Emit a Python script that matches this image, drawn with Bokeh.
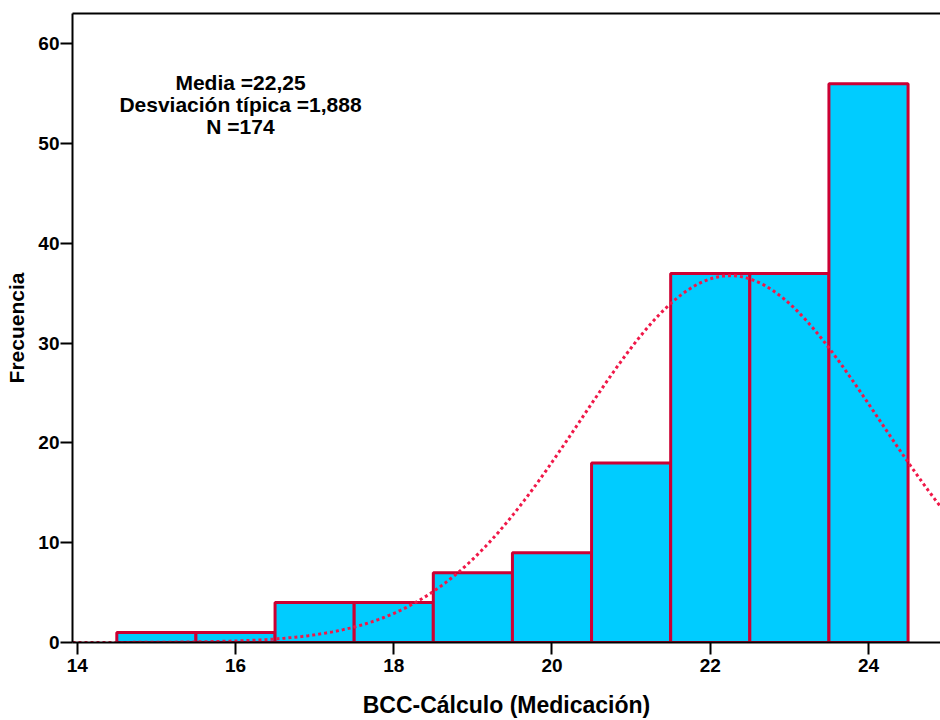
import numpy as np
from bokeh.plotting import figure
from bokeh.models import LinearAxis, Range1d, FixedTicker, Label
from bokeh.embed import file_html
from bokeh.resources import INLINE

# Histogram of BCC-Cálculo (Medicación), bins of width 1
bin_centers = [15, 16, 17, 18, 19, 20, 21, 22, 23, 24]
frequencies = [1, 1, 4, 4, 7, 9, 18, 37, 37, 56]
bin_width = 1.0

# Summary statistics shown in the annotation
media = 22.25
desviacion = 1.888
n_total = 174

stats_lines = ["Media =22,25", "Desviación típica =1,888", "N =174"]
x_ticks = [14, 16, 18, 20, 22, 24]
y_ticks = [0, 10, 20, 30, 40, 50, 60]

FONT = "Liberation Sans"

p = figure(
    width=940, height=720,
    output_backend="svg", toolbar_location=None,
    x_range=Range1d(13.94, 24.91), y_range=Range1d(0, 63.05),
    min_border_left=72, min_border_right=0,
    min_border_top=13, min_border_bottom=78,
)
p.outline_line_color = None
p.grid.visible = False
p.background_fill_color = "white"
p.border_fill_color = "white"

# Bars
p.vbar(x=bin_centers, top=frequencies, width=bin_width, bottom=0,
       fill_color="#00CCFF", line_color="#CC0033", line_width=3)

# Fitted normal curve scaled to counts
xs = np.linspace(13.94, 24.95, 400)
ys = n_total * bin_width / (desviacion * np.sqrt(2 * np.pi)) * np.exp(-0.5 * ((xs - media) / desviacion) ** 2)
p.line(xs, ys, line_color="#F01848", line_width=3, line_dash="3 3")

# Axes styling
for ax in (p.xaxis[0], p.yaxis[0]):
    ax.axis_line_color = "black"
    ax.axis_line_width = 2
    ax.major_tick_line_color = "black"
    ax.major_tick_line_width = 2
    ax.major_tick_in = 0
    ax.minor_tick_line_color = None
    ax.major_label_text_font = FONT
    ax.major_label_text_font_style = "bold"
    ax.major_label_text_color = "black"
    ax.axis_label_text_font = FONT
    ax.axis_label_text_font_style = "bold"
    ax.axis_label_text_color = "black"

p.xaxis.ticker = FixedTicker(ticks=x_ticks)
p.yaxis.ticker = FixedTicker(ticks=y_ticks)
p.xaxis.major_tick_out = 12
p.yaxis.major_tick_out = 12
p.xaxis.major_label_text_font_size = "19px"
p.yaxis.major_label_text_font_size = "19px"
p.xaxis.major_label_standoff = 4
p.yaxis.major_label_standoff = 1
p.xaxis.axis_label = "BCC-Cálculo (Medicación)"
p.yaxis.axis_label = "Frecuencia"
p.xaxis.axis_label_text_font_size = "23px"
p.yaxis.axis_label_text_font_size = "21px"
p.xaxis.axis_label_standoff = 17
p.yaxis.axis_label_standoff = 7

# Top frame line
top_axis = LinearAxis(ticker=FixedTicker(ticks=[]), axis_line_width=2,
                      major_tick_line_color=None, minor_tick_line_color=None,
                      major_label_text_font_size="0px")
p.add_layout(top_axis, "above")

# Statistics annotation (screen offsets from the frame's lower-left corner)
for i, line in enumerate(stats_lines):
    p.add_layout(Label(
        x=168, y=560 - 22 * i, x_units="screen", y_units="screen",
        text=line, text_align="center", text_baseline="middle",
        text_font=FONT, text_font_style="bold", text_font_size="21px",
        text_color="black",
    ))

open("out.html", "w").write(file_html(p, INLINE))
